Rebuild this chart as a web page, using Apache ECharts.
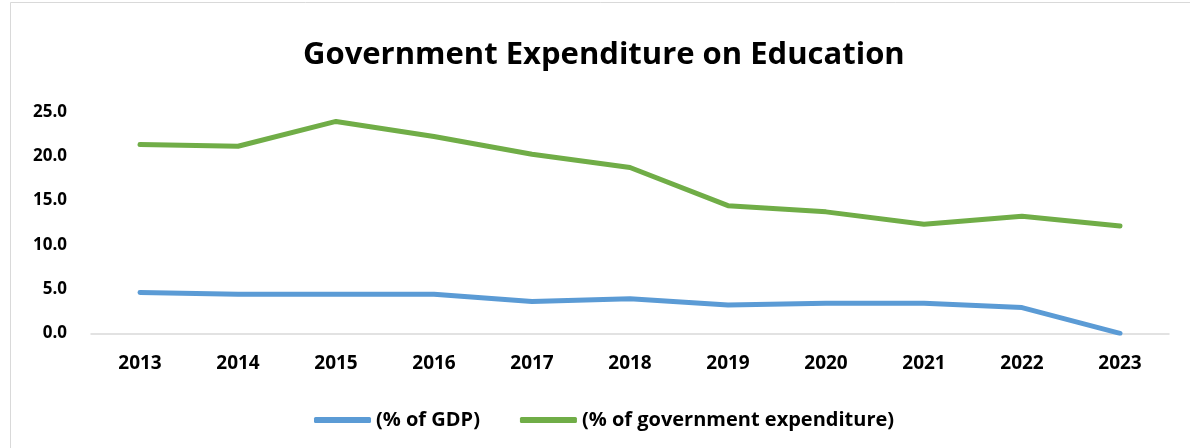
<!DOCTYPE html>
<html>
<head>
<meta charset="utf-8">
<script src="https://cdn.jsdelivr.net/npm/echarts@6/dist/echarts.min.js"></script>
<style>
html,body{margin:0;padding:0;background:#fff;}
#chart{width:1190px;height:448px;}
</style>
</head>
<body>
<div id="chart"></div>
<script>
const categories = ['2013','2014','2015','2016','2017','2018','2019','2020','2021','2022','2023'];
const gdpShare = [4.6, 4.4, 4.4, 4.4, 3.6, 3.9, 3.2, 3.4, 3.4, 2.9, 0.0];
const govShare = [21.3, 21.1, 23.9, 22.2, 20.2, 18.7, 14.4, 13.7, 12.3, 13.2, 12.1];
const seriesNames = ['(% of GDP)', '(% of government expenditure)'];
const titleText = 'Government Expenditure on Education';

const FONT = '"Open Sans", "Noto Sans", sans-serif';
const chart = echarts.init(document.getElementById('chart'), null, {renderer:'canvas'});
chart.setOption({
  backgroundColor: '#fff',
  animation: false,
  graphic: [{
    type: 'rect', left: 8, top: 0,
    shape: {width: 1190, height: 460},
    style: {fill: 'none', stroke: '#d9d9d9', lineWidth: 1}
  }],
  title: {
    text: titleText, left: 298, top: 35,
    textStyle: {fontFamily: FONT, fontSize: 31, fontWeight: 'bold', color: '#000'}
  },
  legend: {
    bottom: 13, left: 309, itemWidth: 57, itemHeight: 6, itemGap: 40,
    icon: 'roundRect',
    textStyle: {fontFamily: FONT, fontSize: 20, fontWeight: 'bold', color: '#000'},
    data: seriesNames
  },
  grid: {left: 91, right: 21, top: 111.7, bottom: 114.7, containLabel: false},
  xAxis: {
    type: 'category', data: categories, boundaryGap: true,
    axisLine: {lineStyle: {color: '#d9d9d9', width: 1.5}},
    axisTick: {show: false},
    axisLabel: {fontFamily: FONT, fontSize: 19, fontWeight: 'bold', color: '#000', margin: 21}
  },
  yAxis: {
    type: 'value', min: 0, max: 25, interval: 5,
    splitLine: {show: false},
    axisLine: {show: false}, axisTick: {show: false},
    axisLabel: {fontFamily: FONT, fontSize: 17, fontWeight: 'bold', color: '#000', margin: 24,
      formatter: v => v.toFixed(1)}
  },
  series: [
    {name: seriesNames[0], type: 'line', data: gdpShare, symbol: 'none',
     lineStyle: {color: '#5B9BD5', width: 5, cap: 'round', join: 'round'}, itemStyle: {color: '#5B9BD5'}},
    {name: seriesNames[1], type: 'line', data: govShare, symbol: 'none',
     lineStyle: {color: '#70AD47', width: 5, cap: 'round', join: 'round'}, itemStyle: {color: '#70AD47'}}
  ]
});
</script>
</body>
</html>
